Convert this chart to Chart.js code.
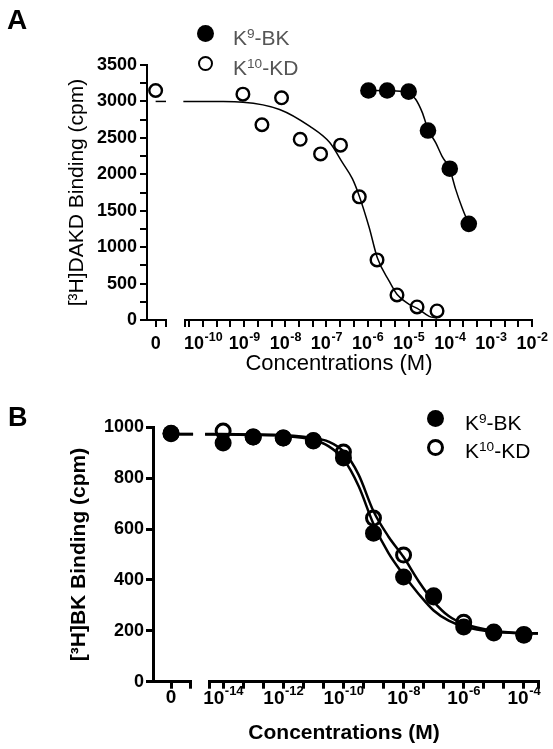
<!DOCTYPE html>
<html>
<head>
<meta charset="utf-8">
<title>Binding curves</title>
<script src="https://cdn.jsdelivr.net/npm/chart.js@4.4.1/dist/chart.umd.min.js"></script>
<style>
  body { margin: 0; background: #fff; }
  #fig { position: relative; width: 553px; height: 749px; overflow: hidden; font-family: "Liberation Sans", Arial, "DejaVu Sans", sans-serif; color: #000; }
  #fig canvas { position: absolute; }
  .txt { position: absolute; white-space: nowrap; line-height: 1; }
  .dot { position: absolute; border-radius: 50%; box-sizing: border-box; }
  sup { font-size: 0.65em; vertical-align: 0.5em; line-height: 0; }
</style>
</head>
<body>
<div id="fig">
  <canvas id="aZero" width="175" height="380" style="left:0px;top:0px"></canvas>
  <canvas id="aLog" width="378" height="380" style="left:175px;top:0px"></canvas>
  <canvas id="bZero" width="200" height="364" style="left:0px;top:385px"></canvas>
  <canvas id="bLog" width="354" height="364" style="left:199px;top:385px"></canvas>

  <div class="txt" style="left:7px;top:6px;font-size:28px;font-weight:bold">A</div>
  <div class="dot" style="left:197px;top:25px;width:17px;height:17px;background:#000"></div>
  <div class="txt" style="left:233px;top:27px;font-size:21px;color:#555">K<sup>9</sup>-BK</div>
  <div class="dot" style="left:197.5px;top:55.5px;width:15px;height:15px;border:2.4px solid #000"></div>
  <div class="txt" style="left:233px;top:57px;font-size:21px;color:#555">K<sup>10</sup>-KD</div>
  <div class="txt" style="left:239px;top:352px;width:200px;text-align:center;font-size:22px">Concentrations (M)</div>

  <div class="txt" style="left:8px;top:404px;font-size:27px;font-weight:bold">B</div>
  <div class="dot" style="left:426.5px;top:409.5px;width:17px;height:17px;background:#000"></div>
  <div class="txt" style="left:465px;top:412px;font-size:21px">K<sup>9</sup>-BK</div>
  <div class="dot" style="left:426.5px;top:438.5px;width:17px;height:17px;border:3px solid #000"></div>
  <div class="txt" style="left:465px;top:440px;font-size:21px">K<sup>10</sup>-KD</div>
  <div class="txt" style="left:244px;top:721px;width:200px;text-align:center;font-size:21px;font-weight:bold">Concentrations (M)</div>
</div>
<script>
// ---- Panel A: [3H]DAKD binding ----
var aConcBK = [1.05e-6, 3.0e-6, 1.0e-5, 2.95e-5, 1.0e-4, 2.9e-4];
var aBindBK = [3150, 3150, 3135, 2600, 2077, 1320];
var aConcKD = [9.3e-10, 2.7e-9, 8.1e-9, 2.3e-8, 7.2e-8, 2.2e-7, 6.3e-7, 1.7e-6, 5.2e-6, 1.6e-5, 4.9e-5];
var aBindKD = [3100, 2680, 3050, 2480, 2280, 2400, 1690, 825, 344, 179, 124];
var aZeroKD = 3150;
// fitted curves (log10 M -> cpm)
var aFitKDLog = [-10.48, -9.6, -9.03, -8.14, -7.41, -6.92, -6.61, -6.37, -6.2, -5.96, -5.76, -5.47, -5.28, -4.99, -4.79, -4.5, -4.31];
var aFitKDVal = [3000, 2998, 2990, 2890, 2660, 2435, 2160, 1940, 1700, 1270, 850, 530, 350, 215, 160, 50, 27];
var aFitBKLog = [-5.98, -5.5, -5.2, -4.99, -4.83, -4.67, -4.53, -4.34, -4.19, -4.0, -3.86, -3.7, -3.54];
var aFitBKVal = [3150, 3148, 3140, 3110, 3030, 2850, 2620, 2430, 2250, 2070, 1800, 1540, 1320];
var aDecades = [-10, -9, -8, -7, -6, -5, -4, -3, -2];

// ---- Panel B: [3H]BK binding ----
var bConc = [1e-14, 1e-13, 1e-12, 1e-11, 1e-10, 1e-9, 1e-8, 1e-7, 1e-6, 1e-5, 1e-4];
var bBindBK = [938, 962, 958, 946, 879, 584, 412, 333, 215, 191, 183];
var bBindKD = [985, 962, 958, 948, 903, 643, 498, 338, 234, 195, 186];
var bZeroBK = 977;
var bZeroKD = 975;
var bFitLog = [-14.6, -13, -12, -11, -10.5, -10, -9.5, -9, -8.5, -8, -7.5, -7, -6.5, -6, -5, -4, -3.53];
var bFitBK = [972, 970, 966, 950, 926, 875, 770, 620, 505, 420, 345, 280, 240, 217, 196, 190, 189];
var bFitKD = [974, 972, 969, 958, 944, 905, 815, 670, 570, 490, 395, 315, 258, 228, 200, 191, 190];
var bDecades = [-14, -12, -10, -8, -6, -4];

var FONT = '"Liberation Sans", Arial, "DejaVu Sans", sans-serif';
Chart.defaults.font.family = FONT;
Chart.defaults.color = '#000';

// draws "10" with a raised exponent under each labelled decade of the log axis
var powerLabels = {
  id: 'powerLabels',
  afterDraw: function (chart, args, o) {
    if (!o || !o.decades) return;
    var s = chart.scales.x, ctx = chart.ctx;
    ctx.save();
    ctx.fillStyle = '#000';
    ctx.textBaseline = 'alphabetic';
    ctx.textAlign = 'left';
    o.decades.forEach(function (e) {
      var x = s.getPixelForValue(Math.pow(10, e));
      var exp = String(e);
      ctx.font = 'bold ' + o.size + 'px ' + FONT;
      var w1 = ctx.measureText('10').width;
      ctx.font = 'bold ' + o.supSize + 'px ' + FONT;
      var w2 = ctx.measureText(exp).width;
      var left = x - (w1 + w2) / 2;
      ctx.font = 'bold ' + o.size + 'px ' + FONT;
      ctx.fillText('10', left, o.base);
      ctx.font = 'bold ' + o.supSize + 'px ' + FONT;
      ctx.fillText(exp, left + w1 + 0.5, o.base - o.size * 0.45);
    });
    ctx.restore();
  }
};
Chart.register(powerLabels);

function pts(xs, ys) {
  return xs.map(function (x, i) { return { x: x, y: ys[i] }; });
}
function logPts(es, ys) {
  return es.map(function (e, i) { return { x: Math.pow(10, e), y: ys[i] }; });
}
function axis(w, len) {
  return {
    bounds: 'data',
    border: { display: true, color: '#000', width: w },
    grid: { drawOnChartArea: false, drawTicks: true, tickLength: len, color: '#000', lineWidth: w }
  };
}
function extend(a, b) { for (var k in b) a[k] = b[k]; return a; }
function filled(data, r) {
  return { data: data, pointStyle: 'circle', pointRadius: r, pointBorderWidth: 0, pointBackgroundColor: '#000', pointBorderColor: '#000', clip: false, order: 0 };
}
function open(data, r, bw) {
  return { data: data, pointStyle: 'circle', pointRadius: r, pointBorderWidth: bw, pointBackgroundColor: 'rgba(0,0,0,0)', pointBorderColor: '#000', clip: false, order: 1 };
}
function curve(data, w) {
  return { data: data, showLine: true, borderColor: '#000', borderWidth: w, pointRadius: 0, cubicInterpolationMode: 'monotone', clip: false, order: 2 };
}
function baseOpts(pad, labels) {
  return {
    responsive: false, animation: false,
    layout: { padding: pad },
    plugins: { legend: { display: false }, tooltip: { enabled: false }, powerLabels: labels || {} }
  };
}

// ticks every third of a decade (A) and two thirds of a decade (B)
var aLogTicks = [Math.pow(10, -10.44)];
for (var k = -31; k <= -6; k++) aLogTicks.push(Math.pow(10, k / 3));
var bLogTicks = [Math.pow(10, -14.47)];
for (var j = 0; j <= 15; j++) bLogTicks.push(Math.pow(10, -14 + 2 * j / 3));
bLogTicks.push(Math.pow(10, -3.53));

// Panel A, zero segment with y axis
new Chart(document.getElementById('aZero'), {
  type: 'scatter',
  data: { datasets: [
    open([{ x: 0, y: aZeroKD }], 6.3, 2.4),
    curve([{ x: 0, y: aFitKDVal[0] }, { x: 1.2, y: aFitKDVal[0] }], 1.5)
  ] },
  options: extend(baseOpts({ left: 65, top: 65, right: 9, bottom: 0 }), {
    scales: {
      x: extend(axis(2, 7), {
        type: 'linear', min: -1, max: 1.2,
        afterBuildTicks: function (s) { s.ticks = [{ value: 0 }, { value: 1.2 }]; },
        afterFit: function (s) { s.height = 60; },
        ticks: { callback: function (v) { return v === 0 ? '0' : ''; }, font: { size: 18, weight: 'bold' }, maxRotation: 0, autoSkip: false, padding: 6 }
      }),
      y: extend(axis(2, 7), {
        min: 0, max: 3500,
        afterFit: function (s) { s.width = 82; },
        ticks: { stepSize: 250, callback: function (v) { return v % 500 === 0 ? String(v) : ''; }, font: { size: 18, weight: 'bold' }, padding: 3, autoSkip: false },
        title: { display: true, text: '[\u00B3H]DAKD Binding (cpm)', font: { size: 21 }, padding: 0 }
      })
    }
  })
});

// Panel A, log segment
new Chart(document.getElementById('aLog'), {
  type: 'scatter',
  data: { datasets: [
    filled(pts(aConcBK, aBindBK), 8.3),
    open(pts(aConcKD, aBindKD), 6.3, 2.4),
    curve(logPts(aFitKDLog, aFitKDVal), 1.5),
    curve(logPts(aFitBKLog, aFitBKVal), 1.5)
  ] },
  options: extend(baseOpts({ left: 10, top: 65, right: 21, bottom: 0 }, { decades: aDecades, size: 18, supSize: 12.5, base: 349 }), {
    scales: {
      x: extend(axis(2, 7), {
        type: 'logarithmic', min: Math.pow(10, -10.44), max: 1e-2,
        afterBuildTicks: function (s) { s.ticks = aLogTicks.map(function (v) { return { value: v }; }); },
        afterFit: function (s) { s.height = 60; },
        ticks: { callback: function () { return ''; }, maxRotation: 0, autoSkip: false }
      }),
      y: { display: false, min: 0, max: 3500 }
    }
  })
});

// Panel B, zero segment with y axis
new Chart(document.getElementById('bZero'), {
  type: 'scatter',
  data: { datasets: [
    filled([{ x: 0, y: bZeroBK }], 8.5),
    open([{ x: 0, y: bZeroKD }], 7, 3),
    curve([{ x: 0, y: bFitBK[0] }, { x: 1.22, y: bFitBK[0] }], 2.5),
    curve([{ x: 0, y: bFitKD[0] }, { x: 1.22, y: bFitKD[0] }], 2.5)
  ] },
  options: extend(baseOpts({ left: 67, top: 42.3, right: 10, bottom: 0 }), {
    scales: {
      x: extend(axis(3, 7), {
        type: 'linear', min: -1, max: 1.05,
        afterBuildTicks: function (s) { s.ticks = [{ value: 0 }, { value: 1.05 }]; },
        afterFit: function (s) { s.height = 67.3; },
        ticks: { callback: function (v) { return v === 0 ? '0' : ''; }, font: { size: 19, weight: 'bold' }, maxRotation: 0, autoSkip: false, padding: -2 }
      }),
      y: extend(axis(3, 7), {
        min: 0, max: 1000,
        afterFit: function (s) { s.width = 86; },
        ticks: { stepSize: 200, callback: function (v) { return String(v); }, font: { size: 18, weight: 'bold' }, padding: 2 },
        title: { display: true, text: '[\u00B3H]BK Binding (cpm)', font: { size: 21, weight: 'bold' }, padding: 0 }
      })
    }
  })
});

// Panel B, log segment
new Chart(document.getElementById('bLog'), {
  type: 'scatter',
  data: { datasets: [
    filled(pts(bConc, bBindBK), 8.5),
    open(pts(bConc, bBindKD), 7, 3),
    curve(logPts(bFitLog, bFitBK), 2.5),
    curve(logPts(bFitLog, bFitKD), 2.5)
  ] },
  options: extend(baseOpts({ left: 10, top: 42.3, right: 15, bottom: 0 }, { decades: bDecades, size: 19, supSize: 13, base: 318.5 }), {
    scales: {
      x: extend(axis(3, 7), {
        type: 'logarithmic', min: Math.pow(10, -14.47), max: Math.pow(10, -3.53),
        afterBuildTicks: function (s) { s.ticks = bLogTicks.map(function (v) { return { value: v }; }); },
        afterFit: function (s) { s.height = 67.3; },
        ticks: { callback: function () { return ''; }, maxRotation: 0, autoSkip: false }
      }),
      y: { display: false, min: 0, max: 1000 }
    }
  })
});
</script>
</body>
</html>
